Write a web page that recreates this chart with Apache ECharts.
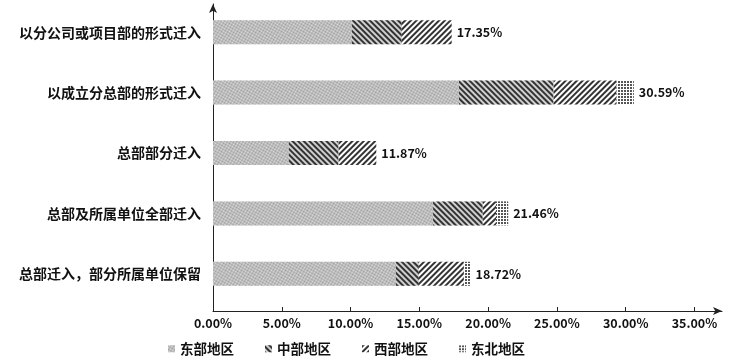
<!DOCTYPE html>
<html><head><meta charset="utf-8">
<script src="https://cdn.jsdelivr.net/npm/echarts@6/dist/echarts.min.js"></script>
<style>html,body{margin:0;padding:0;background:#fff}#c{width:730px;height:363px}</style>
</head><body><div id="c"></div>
<script>
const categories = ['以分公司或项目部的形式迁入','以成立分总部的形式迁入','总部部分迁入','总部及所属单位全部迁入','总部迁入，部分所属单位保留'];
const seriesNames = ['东部地区','中部地区','西部地区','东北地区'];
const eastValues = [10.09, 17.88, 5.51, 16.00, 13.29];
const centralValues = [3.64, 6.88, 3.62, 3.61, 1.68];
const westValues = [3.62, 4.57, 2.74, 0.96, 3.27];
const northeastValues = [0, 1.26, 0, 0.89, 0.48];
const totalLabels = [17.35, 30.59, 11.87, 21.46, 18.72];
const tickValues = [0, 5, 10, 15, 20, 25, 30, 35];

const FONT = "'Noto Sans CJK SC','Noto Sans',sans-serif";
const chart = echarts.init(document.getElementById('c'), null, {renderer: 'canvas'});

const styles = [
  {color: '#e0e0e0', decal: {symbol: 'rect', symbolSize: 1, color: '#999999', dashArrayX: [[1, 1], [0, 1, 1, 0]], dashArrayY: [1, 0]}},
  {color: '#d0d0d0', decal: {symbol: 'rect', symbolSize: 1, color: '#333333', dashArrayX: [1, 0], dashArrayY: [1.5, 1.5], rotation: Math.PI / 4}},
  {color: '#ffffff', decal: {symbol: 'rect', symbolSize: 1, color: '#333333', dashArrayX: [1, 0], dashArrayY: [2, 2], rotation: -Math.PI / 4}},
  {color: '#ffffff', decal: {symbol: 'rect', symbolSize: 1, color: '#555555', dashArrayX: [2, 1], dashArrayY: [2, 1]}}
];
const valueSets = [eastValues, centralValues, westValues, northeastValues];

const series = seriesNames.map((name, i) => {
  const s = {
    name: name,
    type: 'bar',
    stack: 'total',
    xAxisIndex: 0,
    yAxisIndex: 0,
    barWidth: 24,
    data: valueSets[i],
    itemStyle: {color: styles[i].color, decal: styles[i].decal},
    emphasis: {disabled: true}
  };
  if (i === 3) {
    s.label = {
      show: true,
      position: 'right',
      distance: 5,
      formatter: p => totalLabels[p.dataIndex].toFixed(2) + '%',
      color: '#111',
      fontSize: 12.5,
      fontWeight: 'bold',
      fontFamily: FONT
    };
  }
  return s;
});

const option = {
  animation: false,
  backgroundColor: '#fff',
  aria: {enabled: true, decal: {show: true}},
  textStyle: {fontFamily: FONT},
  legend: {
    left: 163,
    top: 337,
    itemWidth: 7,
    itemHeight: 7,
    itemGap: 31,
    icon: 'rect',
    data: seriesNames,
    textStyle: {fontSize: 13.5, color: '#111', fontFamily: FONT, fontWeight: 'bold'}
  },
  grid: [
    {left: 213, right: 8, top: 2, height: 302},
    {left: 213, right: 8, top: 4, bottom: 52}
  ],
  xAxis: [
    {gridIndex: 0, type: 'value', min: 0, max: 37, show: false},
    {
      gridIndex: 1, type: 'value', min: 0, max: 37, interval: 5,
      axisLine: {show: true, lineStyle: {color: '#222', width: 1}, symbol: ['none', 'arrow'], symbolSize: [6, 9]},
      axisTick: {show: true, inside: true, length: 4, lineStyle: {color: '#222'}, customValues: tickValues.slice(1)},
      axisLabel: {
        customValues: tickValues,
        formatter: v => v.toFixed(2) + '%',
        color: '#111', fontSize: 12.5, fontWeight: 'bold', fontFamily: FONT, margin: 6
      },
      splitLine: {show: false}
    }
  ],
  yAxis: [
    {
      gridIndex: 0, type: 'category', inverse: true, data: categories,
      axisLine: {show: false}, axisTick: {show: false},
      axisLabel: {color: '#111', fontSize: 14, fontWeight: 'bold', fontFamily: FONT, margin: 12}
    },
    {
      gridIndex: 1, type: 'value', min: 0, max: 1,
      axisLine: {show: true, lineStyle: {color: '#222', width: 1}, symbol: ['none', 'arrow'], symbolSize: [6, 9]},
      axisTick: {show: false}, axisLabel: {show: false}, splitLine: {show: false}
    }
  ],
  series: series
};
chart.setOption(option);
</script>
</body></html>
